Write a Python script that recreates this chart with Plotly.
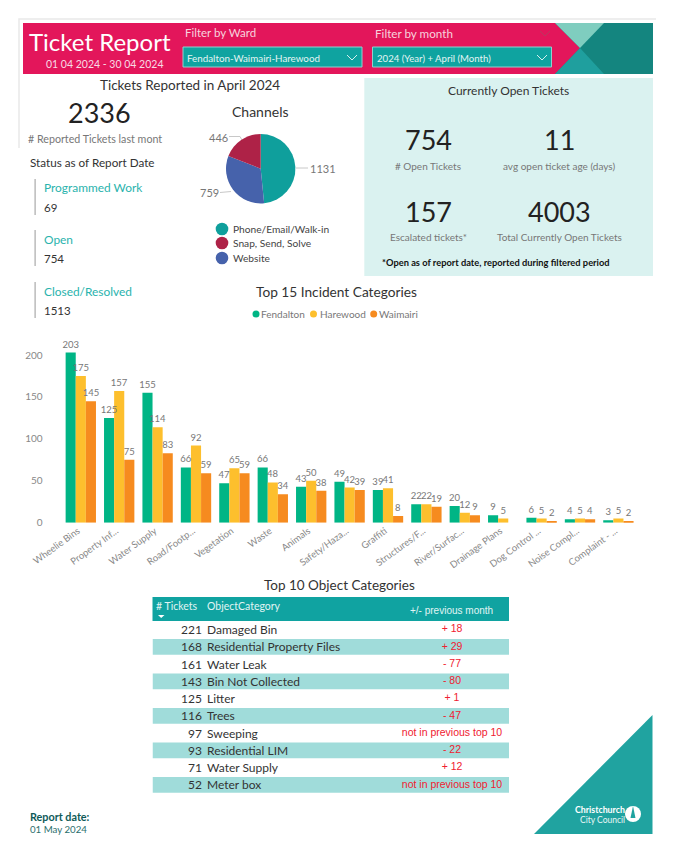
import plotly.graph_objects as go

W, H = 675, 862
FONT = "Lato"
categories = ["Wheelie Bins", "Property Inf...", "Water Supply", "Road/Footp...", "Vegetation", "Waste", "Animals",
              "Safety/Haza...", "Graffiti", "Structures/F...", "River/Surfac...", "Drainage Plans",
              "Dog Control ...", "Noise Compl...", "Complaint - ..."]
fendalton = [203, 125, 155, 66, 47, 66, 43, 49, 39, 22, 20, 9, 6, 4, 3]
harewood = [175, 157, 114, 92, 65, 48, 50, 42, 41, 22, 12, 5, 5, 5, 5]
waimairi = [145, 75, 83, 59, 59, 34, 38, 39, 8, 19, 9, None, 2, 4, 2]
channels = ["Phone/Email/Walk-in", "Website", "Snap, Send, Solve"]
channel_values = [1131, 759, 446]
table_tickets = [221, 168, 161, 143, 125, 116, 97, 93, 71, 52]
table_objects = ["Damaged Bin", "Residential Property Files", "Water Leak", "Bin Not Collected", "Litter", "Trees",
                 "Sweeping", "Residential LIM", "Water Supply", "Meter box"]
table_change = ["+ 18", "+ 29", "- 77", "- 80", "+ 1", "- 47", "not in previous top 10", "- 22", "+ 12",
                "not in previous top 10"]


def X(x):
    return x / W


def Y(y):
    return 1 - y / H


fig = go.Figure()
shapes, ann = [], []


def rect(x0, y0, x1, y1, fill, line=None, lw=0):
    shapes.append(dict(type="rect", xref="paper", yref="paper", x0=X(x0), x1=X(x1), y0=Y(y0), y1=Y(y1),
                       fillcolor=fill, line=dict(color=line or fill, width=lw), layer="below"))


def poly(pts, fill=None, line=None, lw=1):
    d = "M" + " L".join(f"{X(a):.5f},{Y(b):.5f}" for a, b in pts) + (" Z" if fill else "")
    shapes.append(dict(type="path", xref="paper", yref="paper", path=d, fillcolor=fill or "rgba(0,0,0,0)",
                       line=dict(color=line or "rgba(0,0,0,0)", width=lw if line else 0), layer="below"))


def dot(x, y, r, fill, line=None):
    shapes.append(dict(type="circle", xref="paper", yref="paper", x0=X(x - r), x1=X(x + r), y0=Y(y - r), y1=Y(y + r),
                       fillcolor=fill, line=dict(color=line or fill, width=1 if line else 0), layer="above"))


def text(x, y, s, size, color="#333333", anchor="center", bold=False, family=FONT):
    if anchor == "left":
        x -= 1
    ann.append(dict(xref="paper", yref="paper", x=X(x), y=Y(y), text=f"<b>{s}</b>" if bold else s, showarrow=False,
                    xanchor=anchor, yanchor="middle", borderpad=0,
                    font=dict(size=size, color=color, family=family)))


# page frame
poly([(19, 148), (19, 19), (656, 19)], line="#e9e9e9", lw=1.5)
# banner
rect(23, 23, 653, 74, "#e3165b")
poly([(555, 23), (653, 23), (653, 74), (555, 74), (580, 48)], fill="#14857f")
poly([(555, 23), (604, 23), (580, 48)], fill="#7fcdbf")
poly([(555, 74), (580, 48), (604, 74)], fill="#1f9f9e")
rect(183, 47, 362, 67, "#0fa3a0", "#8fd0cf", 1)
rect(372.5, 47, 551.5, 67, "#0fa3a0", "#8fd0cf", 1)
poly([(347, 55), (352, 60), (357, 55)], line="#d8f0ef", lw=1)
poly([(537, 55), (542, 60), (547, 55)], line="#d8f0ef", lw=1)
poly([(540, 31), (545, 36), (550, 31)], line="#b83a60", lw=1)
text(100, 41, "Ticket Report", 24, "#ffffff")
text(104, 64, "01 04 2024 - 30 04 2024", 10.5, "#f8dbe4")
text(185, 33, "Filter by Ward", 11.5, "#f7d3de", "left")
text(375, 33, "Filter by month", 11.7, "#f7d3de", "left")
text(187, 58, "Fendalton-Waimairi-Harewood", 9.8, "#e4f5f4", "left")
text(377, 58, "2024 (Year) + April (Month)", 9.6, "#e4f5f4", "left")

# left column
text(190, 85, "Tickets Reported in April 2024", 13.5)
text(99, 112, "2336", 27, "#222222")
text(28, 138, "# Reported Tickets last mont", 10.7, "#777777", "left")
text(30, 162, "Status as of Report Date", 11.7, "#333333", "left")
for y0, lab, val in [(188, "Programmed Work", "69"), (239, "Open", "754"), (291, "Closed/Resolved", "1513")]:
    rect(34.5, y0 - 9, 35.7, y0 + 27, "#aaaaaa")
    text(44, y0, lab, 11.9, "#2ab3ad", "left")
    text(44, y0 + 19.5, val, 11.5, "#333333", "left")

# channels
text(260.7, 111, "Channels", 14)
pie_colors = ["#0f9f9c", "#4662ab", "#ae2247"]
fig.add_trace(go.Pie(labels=channels, values=channel_values, sort=False, direction="clockwise", rotation=0,
                     marker=dict(colors=pie_colors, line=dict(width=0)), textinfo="none", hoverinfo="label+value",
                     domain=dict(x=[X(226), X(295.4)], y=[Y(203.4), Y(134)]), showlegend=False))
poly([(296, 168), (308, 168)], line="#c8c8c8", lw=1)
poly([(220, 192.5), (231, 191.5)], line="#c8c8c8", lw=1)
poly([(229, 136.5), (240, 136.5), (243, 142)], line="#c8c8c8", lw=1)
text(323, 168, str(channel_values[0]), 11, "#777777")
text(209, 193, str(channel_values[1]), 11, "#777777")
text(218, 137, str(channel_values[2]), 11, "#777777")
for y, lab, c in [(229, channels[0], pie_colors[0]), (243, channels[2], pie_colors[2]), (258, channels[1], pie_colors[1])]:
    dot(222, y, 6.3, c)
    text(233, y - 0.5, lab, 10.2, "#444444", "left")

# open tickets panel
rect(364.3, 78, 653, 276, "#daf2f0")
text(508, 90, "Currently Open Tickets", 12)
for x, y, v, lab in [(428, 140, "754", "# Open Tickets"), (559, 140, "11", "avg open ticket age (days)"),
                     (428, 211, "157", "Escalated tickets*"), (559, 211, "4003", "Total Currently Open Tickets")]:
    text(x, y, v, 27, "#222222")
    text(x, y + 26, lab, 10, "#777777")
text(495.7, 262, "*Open as of report date, reported during filtered period", 9.3, "#111111", bold=True)

# bars
text(336, 291, "Top 15 Incident Categories", 13.7)
bar_colors = ["#00b585", "#fdbf2d", "#f68b1f"]
series = list(zip(["Fendalton", "Harewood", "Waimairi"], [fendalton, harewood, waimairi], bar_colors))
for name, vals, c in series:
    fig.add_trace(go.Bar(x=categories, y=vals, name=name, marker=dict(color=c, line=dict(width=0)),
                         showlegend=False))
# value labels sit on an overlaid subplot so that no bar covers them
for name, vals, c in series:
    fig.add_trace(go.Bar(x=categories, y=vals, name=name, marker=dict(color="rgba(0,0,0,0)", line=dict(width=0)),
                         text=vals, textposition="outside", textangle=0, cliponaxis=False, constraintext="none",
                         textfont=dict(size=9.5, color="#777777", family=FONT), showlegend=False,
                         xaxis="x3", yaxis="y3", hoverinfo="skip"))
for dx, tx, lab, c in [(256, 261, "Fendalton", bar_colors[0]), (313.5, 319.5, "Harewood", bar_colors[1]),
                       (373.7, 379, "Waimairi", bar_colors[2])]:
    dot(dx, 314, 3.5, c)
    text(tx, 314, lab, 10, "#777777", "left")

# table
text(339, 585, "Top 10 Object Categories", 13.5)
rect(152.5, 597, 509, 621, "#10a3a1")
text(198, 606, "# Tickets", 10.5, "#e0f5f4", "right")
text(207, 606, "ObjectCategory", 10.5, "#e0f5f4", "left")
text(452, 610, "+/- previous month", 10, "#e0f5f4", family="Liberation Sans")
poly([(158, 615), (164.5, 615), (161.2, 618)], fill="#ffffff")
rows = list(range(len(table_objects)))
fig.add_trace(go.Bar(y=rows, x=[356.5 if i % 2 else 0 for i in rows], orientation="h", width=0.9,
                     marker=dict(color="#a0dcda", line=dict(width=0)), xaxis="x2", yaxis="y2", showlegend=False,
                     hoverinfo="skip"))
fig.add_trace(go.Scatter(x=[49.5] * 10, y=[r + 0.08 for r in rows], text=table_tickets, mode="text",
                         textposition="middle left",
                         textfont=dict(size=12, color="#333333", family=FONT), xaxis="x2", yaxis="y2",
                         showlegend=False, hoverinfo="skip", cliponaxis=False))
fig.add_trace(go.Scatter(x=[54.5] * 10, y=[r + 0.08 for r in rows], text=table_objects, mode="text",
                         textposition="middle right",
                         textfont=dict(size=12, color="#333333", family=FONT), xaxis="x2", yaxis="y2",
                         showlegend=False, hoverinfo="skip", cliponaxis=False))
fig.add_trace(go.Scatter(x=[299.5] * 10, y=rows, text=table_change, mode="text",
                         textposition="middle center",
                         textfont=dict(size=10.5, color="#f02030", family="Liberation Sans"), xaxis="x2", yaxis="y2",
                         showlegend=False, hoverinfo="skip", cliponaxis=False))

# footer
text(30, 816, "Report date:", 10.8, "#0e5a58", "left", bold=True)
text(30, 829, "01 May 2024", 9.7, "#2a6e6c", "left")
poly([(534, 834), (652.5, 834), (652.5, 715)], fill="#20a3a0")
text(626, 809.5, "Christchurch", 8.8, "#ffffff", "right", bold=True)
text(626, 820, "City Council", 8.5, "#e8f7f6", "right")
dot(633, 814, 8, "#ffffff")
shapes.append(dict(type="path", xref="paper", yref="paper",
                   path=f"M{X(633):.5f},{Y(806):.5f} L{X(630.5):.5f},{Y(818):.5f} L{X(635.5):.5f},{Y(818):.5f} Z",
                   fillcolor="#20a3a0", line=dict(width=0), layer="above"))

YR = [0, 218]
fig.update_layout(
    width=W, height=H, margin=dict(l=0, r=0, t=0, b=0, autoexpand=False), autosize=False,
    paper_bgcolor="#ffffff", plot_bgcolor="rgba(0,0,0,0)", font=dict(family=FONT),
    barmode="group", bargap=0.21, bargroupgap=0,
    shapes=shapes, annotations=ann,
    xaxis=dict(domain=[X(61.6), X(637.6)], showgrid=False, zeroline=False, showline=False, ticks="",
               tickangle=-36, ticklabelshift=-3, tickfont=dict(size=9.5, color="#888888", family=FONT),
               fixedrange=True),
    yaxis=dict(domain=[Y(522.7), Y(340)], range=YR, showgrid=False, zeroline=False, showline=False,
               tickvals=[0, 50, 100, 150, 200], ticks="outside", ticklen=16, tickcolor="rgba(0,0,0,0)",
               tickfont=dict(size=10, color="#888888", family=FONT), fixedrange=True),
    xaxis2=dict(domain=[X(152.5), X(509)], range=[0, 356.5], visible=False, fixedrange=True, anchor="y2"),
    yaxis2=dict(domain=[Y(793.5), Y(621)], range=[9.5, -0.5], visible=False, fixedrange=True, anchor="x2"),
    xaxis3=dict(domain=[X(61.6), X(637.6)], matches="x", overlaying="x", visible=False, anchor="y3", fixedrange=True),
    yaxis3=dict(domain=[Y(522.7), Y(340)], range=YR, overlaying="y", visible=False, anchor="x3", fixedrange=True),
)
fig.write_html("out.html", config=dict(displayModeBar=False),
               post_script="document.body.style.margin='0';document.documentElement.style.overflow='hidden';")
